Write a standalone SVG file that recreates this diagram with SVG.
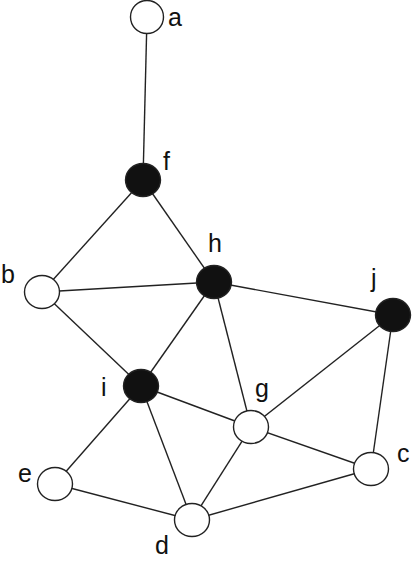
<svg xmlns="http://www.w3.org/2000/svg" width="417" height="563" viewBox="0 0 417 563">
<style>
.e{stroke:#222;stroke-width:1.4;fill:none}
.n{stroke:#222;stroke-width:1.4;fill:#fff}
.f{stroke:#222;stroke-width:1.4;fill:#111}
text{font-family:"Liberation Sans",Arial,sans-serif;font-size:25px;fill:#111}
</style>
<rect width="417" height="563" fill="#fff"/>
<g id="edges">
<line class="e" x1="147" y1="17" x2="143" y2="180"/>
<line class="e" x1="143" y1="180" x2="42" y2="292"/>
<line class="e" x1="143" y1="180" x2="214" y2="282"/>
<line class="e" x1="42" y1="292" x2="214" y2="282"/>
<line class="e" x1="42" y1="292" x2="141" y2="386"/>
<line class="e" x1="214" y1="282" x2="141" y2="386"/>
<line class="e" x1="214" y1="282" x2="251" y2="427"/>
<line class="e" x1="214" y1="282" x2="393" y2="315"/>
<line class="e" x1="141" y1="386" x2="251" y2="427"/>
<line class="e" x1="141" y1="386" x2="55" y2="484"/>
<line class="e" x1="141" y1="386" x2="192" y2="520"/>
<line class="e" x1="251" y1="427" x2="393" y2="315"/>
<line class="e" x1="251" y1="427" x2="371" y2="469"/>
<line class="e" x1="251" y1="427" x2="192" y2="520"/>
<line class="e" x1="55" y1="484" x2="192" y2="520"/>
<line class="e" x1="192" y1="520" x2="371" y2="469"/>
<line class="e" x1="393" y1="315" x2="371" y2="469"/>
</g>
<g id="node-a"><ellipse class="n" cx="147" cy="17" rx="16.5" ry="16.5"/><text x="168" y="26">a</text></g>
<g id="node-f"><ellipse class="f" cx="143" cy="180" rx="17.5" ry="16.5"/><text x="163" y="170">f</text></g>
<g id="node-h"><ellipse class="f" cx="214" cy="282" rx="17.5" ry="16.5"/><text x="208" y="252">h</text></g>
<g id="node-b"><ellipse class="n" cx="42" cy="292" rx="17.5" ry="16.5"/><text x="1" y="283">b</text></g>
<g id="node-j"><ellipse class="f" cx="393" cy="315" rx="17.5" ry="16.5"/><text x="371" y="287">j</text></g>
<g id="node-i"><ellipse class="f" cx="141" cy="386" rx="17.5" ry="16.5"/><text x="101" y="396">i</text></g>
<g id="node-g"><ellipse class="n" cx="251" cy="427" rx="17.5" ry="16.5"/><text x="255" y="397">g</text></g>
<g id="node-e"><ellipse class="n" cx="55" cy="484" rx="17.5" ry="16.5"/><text x="18" y="482">e</text></g>
<g id="node-c"><ellipse class="n" cx="371" cy="469" rx="17.5" ry="16.5"/><text x="397" y="462">c</text></g>
<g id="node-d"><ellipse class="n" cx="192" cy="520" rx="17.5" ry="16.5"/><text x="155" y="554">d</text></g>
</svg>
